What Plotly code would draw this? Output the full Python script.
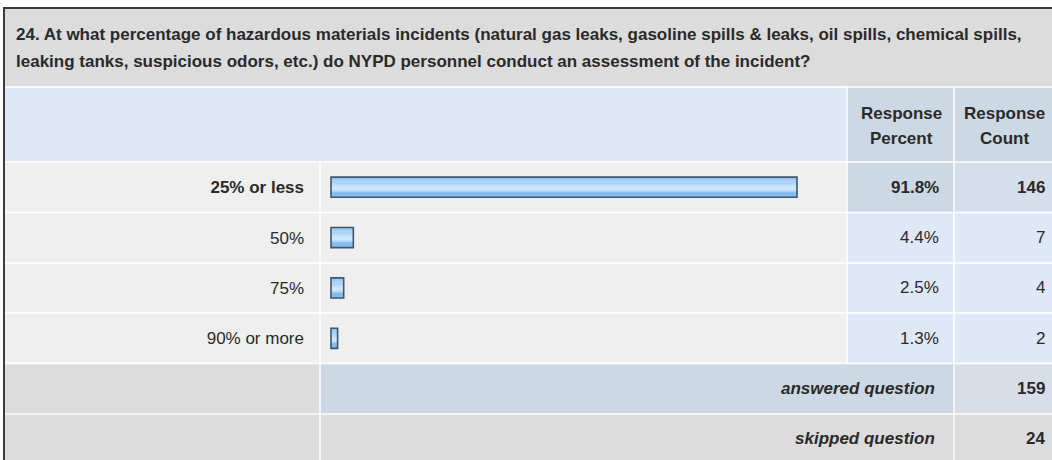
import plotly.graph_objects as go

# Survey question and results
question_line1 = ("24. At what percentage of hazardous materials incidents (natural gas leaks, "
                  "gasoline spills & leaks, oil spills, chemical spills,")
question_line2 = "leaking tanks, suspicious odors, etc.) do NYPD personnel conduct an assessment of the incident?"
categories = ["25% or less", "50%", "75%", "90% or more"]
response_percent = [91.8, 4.4, 2.5, 1.3]
response_count = [146, 7, 4, 2]
summary_labels = ["answered question", "skipped question"]
summary_counts = [159, 24]

W, H = 1052, 460
FONT = "Liberation Sans, Arial, sans-serif"
TXT = "#2a2a2a"
FS = 17


def px(x):
    return x / W


def py(y):
    return 1 - y / H


# table geometry (pixels)
LEFT, RIGHT = 5, W
COL_BAR, COL_PCT, COL_CNT = 320, 847, 954
TITLE_TOP, HEAD_TOP = 9, 87
ROW_EDGES = [162, 212.5, 263, 313, 363.5, 414, 466]

shapes = []


def cell(x0, y0, x1, y1, color):
    shapes.append(dict(type="rect", xref="paper", yref="paper",
                       x0=px(x0), x1=px(x1), y0=py(y1), y1=py(y0),
                       fillcolor=color, line=dict(width=0), layer="below"))


def hline(y, x0, x1, color="white", w=1.5):
    shapes.append(dict(type="line", xref="paper", yref="paper",
                       x0=px(x0), x1=px(x1), y0=py(y), y1=py(y),
                       line=dict(color=color, width=w), layer="below"))


def vline(x, y0, y1, color="white", w=1.5):
    shapes.append(dict(type="line", xref="paper", yref="paper",
                       x0=px(x), x1=px(x), y0=py(y0), y1=py(y1),
                       line=dict(color=color, width=w), layer="below"))


GRAY = "#dcdcdc"
LIGHT = "#efefef"
BLUE = "#dfe8f6"
STEEL = "#cdd8e5"

# title band
cell(LEFT, TITLE_TOP, RIGHT, HEAD_TOP, GRAY)
# header row
cell(LEFT, HEAD_TOP, COL_PCT, ROW_EDGES[0], BLUE)
cell(COL_PCT, HEAD_TOP, RIGHT, ROW_EDGES[0], STEEL)
# answer rows
imax = response_percent.index(max(response_percent))
for i in range(len(categories)):
    y0, y1 = ROW_EDGES[i], ROW_EDGES[i + 1]
    cell(LEFT, y0, COL_PCT, y1, LIGHT)
    cell(COL_PCT, y0, COL_CNT, y1, STEEL if i == imax else BLUE)
    cell(COL_CNT, y0, RIGHT, y1, "#d5dfeb" if i == imax else BLUE)
# summary rows
n = len(categories)
cell(LEFT, ROW_EDGES[n], COL_BAR, ROW_EDGES[n + 1], GRAY)
cell(COL_BAR, ROW_EDGES[n], COL_CNT, ROW_EDGES[n + 1], STEEL)
cell(COL_CNT, ROW_EDGES[n], RIGHT, ROW_EDGES[n + 1], "#d7dee8")
cell(LEFT, ROW_EDGES[n + 1], RIGHT, ROW_EDGES[n + 2], GRAY)

# white grid separators
hline(HEAD_TOP, LEFT, RIGHT)
for y in ROW_EDGES[:-1]:
    hline(y, LEFT, RIGHT)
vline(COL_PCT, HEAD_TOP, ROW_EDGES[n])
vline(COL_CNT, HEAD_TOP, ROW_EDGES[-1])
vline(COL_BAR, ROW_EDGES[0], ROW_EDGES[-1])

# outer frame (top and left)
hline(8, 3, RIGHT, color="#3a3a3a", w=2)
vline(4, 7, H, color="#3a3a3a", w=2)

fig = go.Figure()
# glossy bar: body, layered bands for a vertical gradient, then the outline
bands = [
    (0.40, -0.20, "#85bcef"),
    (0.30, -0.20, "#9ccaf3"),
    (0.22, -0.14, "#add4f6"),
    (0.14, -0.06, "#bfdef9"),
    (0.07, -0.02, "#cce7fc"),
]
for wdt, off, col in bands:
    fig.add_trace(go.Bar(orientation="h", x=response_percent, y=categories, width=wdt, offset=off,
                         marker=dict(color=col, line=dict(width=0)), hoverinfo="skip"))
fig.add_trace(go.Bar(orientation="h", x=response_percent, y=categories, width=0.4,
                     marker=dict(color="rgba(0,0,0,0)", line=dict(width=1.6, color="#3d566e")),
                     hoverinfo="skip"))

annotations = []


def text(x, y, s, size=FS, anchor="right", bold=False, italic=False):
    if bold:
        s = f"<b>{s}</b>"
    if italic:
        s = f"<i>{s}</i>"
    annotations.append(dict(x=px(x), y=py(y), xref="paper", yref="paper",
                            text=s, showarrow=False, xanchor=anchor, yanchor="middle",
                            font=dict(family=FONT, size=size, color=TXT)))


text(14, 34, question_line1, anchor="left", bold=True)
text(14, 61, question_line2, anchor="left", bold=True)
for cx, lines in ((901, ("Response", "Percent")), (1004, ("Response", "Count"))):
    text(cx, 113, lines[0], anchor="center", bold=True)
    text(cx, 139, lines[1], anchor="center", bold=True)

for i, c in enumerate(categories):
    b = i == imax
    pct = f"{response_percent[i]:.1f}%"
    cnt = f"{response_count[i]}"
    for xx, s in ((941, pct), (1047, cnt)):
        annotations.append(dict(x=px(xx), y=c, xref="paper", yref="y",
                                text=(f"<b>{s}</b>" if b else s),
                                showarrow=False, xanchor="right", yanchor="middle",
                                font=dict(family=FONT, size=FS, color=TXT)))

for k, (lab, cnt) in enumerate(zip(summary_labels, summary_counts)):
    yc = (ROW_EDGES[n + k] + ROW_EDGES[n + k + 1]) / 2 if k == 0 else 438
    text(937, yc, lab, bold=True, italic=True)
    text(1047, yc, cnt, bold=True)

ticktext = [f"<b>{c}</b>" if i == imax else c for i, c in enumerate(categories)]

# 0 at x=331px, 91.8 at x=797px
scale = (797 - 331) / max(response_percent)
x_lo = -(331 - COL_BAR) / scale
x_hi = (COL_PCT - 331) / scale

fig.update_layout(
    width=W, height=H, margin=dict(l=0, r=0, t=0, b=0),
    paper_bgcolor="white", plot_bgcolor="rgba(0,0,0,0)",
    barmode="overlay", showlegend=False,
    shapes=shapes, annotations=annotations,
    xaxis=dict(domain=[px(COL_BAR), px(COL_PCT)], range=[x_lo, x_hi], visible=False, fixedrange=True),
    yaxis=dict(domain=[py(ROW_EDGES[n]), py(ROW_EDGES[0])], type="category",
               categoryorder="array", categoryarray=categories, range=[n - 0.5, -0.5],
               showgrid=False, zeroline=False, showline=False, ticks="",
               tickmode="array", tickvals=categories, ticktext=ticktext,
               ticklabelstandoff=15, tickfont=dict(family=FONT, size=FS, color=TXT), fixedrange=True),
)

fig.write_html("out.html")
